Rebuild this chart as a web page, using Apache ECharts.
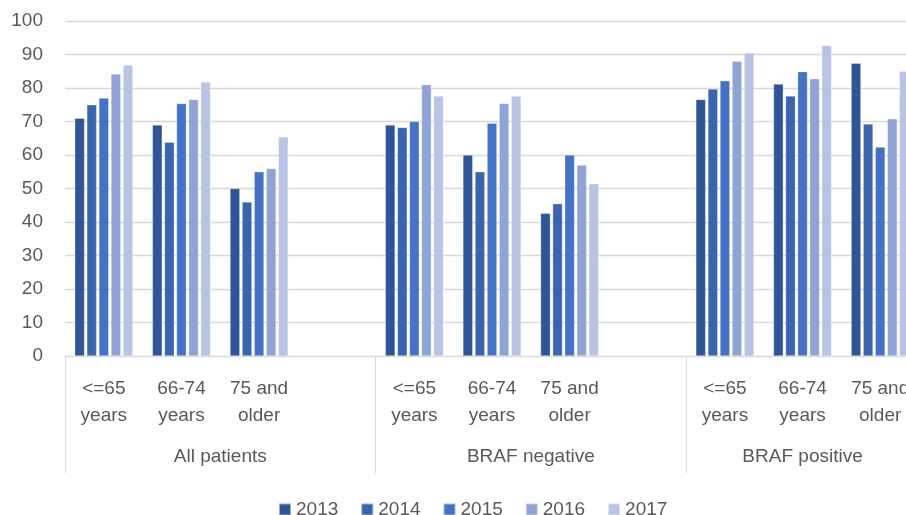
<!DOCTYPE html>
<html>
<head>
<meta charset="utf-8">
<script src="https://cdn.jsdelivr.net/npm/echarts@6/dist/echarts.min.js"></script>
<style>html,body{margin:0;padding:0;background:#fff;overflow:hidden}#c{width:922px;height:515px}</style>
</head>
<body>
<div id="c"></div>
<script>
const categories = ['<=65\nyears','66-74\nyears','75 and\nolder','','<=65\nyears','66-74\nyears','75 and\nolder','','<=65\nyears','66-74\nyears','75 and\nolder'];
const groupNames = ['All patients','BRAF negative','BRAF positive'];
const groupSizes = [4, 4, 3];
const years = ['2013','2014','2015','2016','2017'];
const v2013 = [71.0, 69.0, 50.0, null, 69.0, 60.0, 42.6, null, 76.6, 81.2, 87.4];
const v2014 = [75.0, 63.8, 46.0, null, 68.2, 55.0, 45.5, null, 79.7, 77.6, 69.3];
const v2015 = [77.0, 75.4, 55.0, null, 70.0, 69.5, 60.0, null, 82.2, 84.9, 62.4];
const v2016 = [84.2, 76.6, 56.0, null, 81.0, 75.4, 57.0, null, 88.0, 82.8, 70.8];
const v2017 = [86.9, 81.8, 65.4, null, 77.6, 77.6, 51.4, null, 90.5, 92.7, 85.0];
const yTicks = [0,10,20,30,40,50,60,70,80,90,100];

const seriesData = [v2013, v2014, v2015, v2016, v2017];
const colors = ['#2F5597','#3A64AD','#4472C4','#8FA4D5','#B9C3E3'];

const bounds = [0];
groupSizes.forEach(s => bounds.push(bounds[bounds.length-1] + s));
const centers = groupSizes.map((s,i) => bounds[i] + s/2);
const total = bounds[bounds.length-1];

const font = "'Liberation Sans', Arial, sans-serif";
const chart = echarts.init(document.getElementById('c'), null, {renderer:'canvas'});
chart.setOption({
  animation: false,
  textStyle: {fontFamily: font},
  grid: {left: 65, top: 21, width: 854, height: 335, containLabel: false},
  legend: {
    left: 273, top: 495,
    itemWidth: 12, itemHeight: 12, itemGap: 22,
    icon: 'rect',
    textStyle: {color: '#595959', fontSize: 19, fontFamily: font},
    data: years
  },
  xAxis: [
    {
      type: 'category', data: categories, position: 'bottom',
      axisLine: {show: true, lineStyle: {color: '#d9d9d9', width: 1}},
      axisTick: {show: false},
      axisLabel: {color: '#595959', fontSize: 19, lineHeight: 27, margin: 19, interval: 0, fontFamily: font},
      splitLine: {show: false}
    },
    {
      type: 'value', min: 0, max: total, position: 'bottom', gridIndex: 0,
      axisLine: {show: false},
      axisTick: {show: true, customValues: bounds, length: 117, inside: false, lineStyle: {color: '#d9d9d9', width: 1}},
      axisLabel: {
        show: true, customValues: centers, margin: 91, color: '#595959', fontSize: 19, fontFamily: font,
        formatter: function (v) { const i = centers.indexOf(v); return i >= 0 ? groupNames[i] : ''; }
      },
      splitLine: {show: false}
    }
  ],
  yAxis: {
    type: 'value', min: yTicks[0], max: yTicks[yTicks.length-1], interval: 10,
    axisLine: {show: false}, axisTick: {show: false},
    axisLabel: {color: '#595959', fontSize: 19, margin: 22, fontFamily: font},
    splitLine: {lineStyle: {color: '#d9d9d9', width: 1.3}}
  },
  series: years.map((y, i) => ({
    name: y, type: 'bar', xAxisIndex: 0, data: seriesData[i],
    barGap: '22%', barCategoryGap: '25%',
    itemStyle: {color: colors[i], borderColor: 'rgba(255,255,255,0.5)', borderWidth: 0.6}
  }))
});
</script>
</body>
</html>
